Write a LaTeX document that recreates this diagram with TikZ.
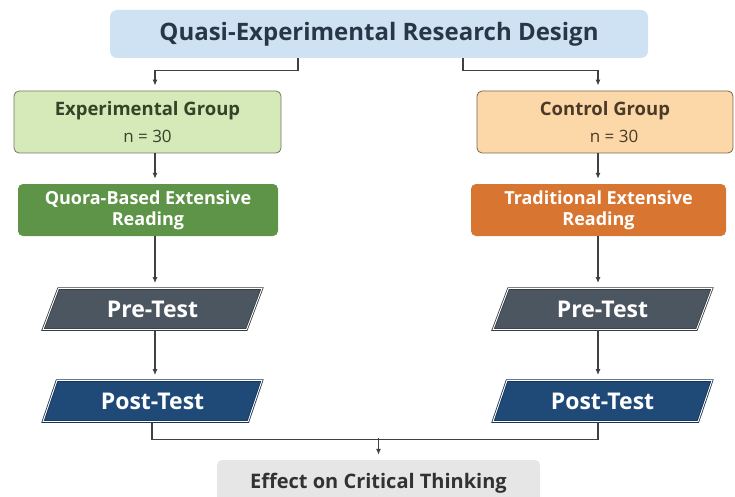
\documentclass[tikz,border=0pt]{standalone}
\usepackage{fontspec}
\setmainfont{Open Sans}
\usepackage{xcolor}
\usetikzlibrary{arrows.meta}
\usetikzlibrary{positioning,calc,shapes.geometric}
\definecolor{titlefill}{RGB}{207,226,243}
\definecolor{titletext}{RGB}{40,55,72}
\definecolor{expfill}{RGB}{214,233,184}
\definecolor{expdraw}{RGB}{110,120,100}
\definecolor{exptext}{RGB}{52,68,40}
\definecolor{ctlfill}{RGB}{252,216,168}
\definecolor{ctldraw}{RGB}{120,100,80}
\definecolor{ctltext}{RGB}{75,58,40}
\definecolor{quorafill}{RGB}{94,148,71}
\definecolor{tradfill}{RGB}{216,117,48}
\definecolor{prefill}{RGB}{75,86,96}
\definecolor{postfill}{RGB}{31,74,120}
\definecolor{effectfill}{RGB}{230,230,230}
\definecolor{effecttext}{RGB}{50,50,50}
\definecolor{linecol}{RGB}{64,64,64}

\begin{document}
\begin{tikzpicture}[
		x=1pt,y=-1pt,
		TitleBox/.style={fill=titlefill,rounded corners=7pt,minimum width=538pt,minimum height=48pt,
			text=titletext,font=\bfseries\fontsize{24}{28}\selectfont},
		GroupBox/.style={draw=#1draw,fill=#1fill,thick,rounded corners=5pt,minimum height=62pt,
			text=#1text,align=center,font=\bfseries\fontsize{18.5}{25}\selectfont},
		ReadBox/.style={fill=#1,rounded corners=5pt,minimum width=258pt,minimum height=52pt,
			text=white,align=center,font=\bfseries\fontsize{18}{21}\selectfont},
		TestBox/.style={trapezium,trapezium left angle=71,trapezium right angle=109,trapezium stretches=true,
			fill=#1,draw=#1!70!black,double=white,double distance=0.9pt,line width=0.8pt,
			minimum width=219pt,minimum height=41pt,text=white,font=\bfseries\fontsize{23}{26}\selectfont},
		Segments/.style={draw=linecol,line width=1.1pt},
		Conn/.style={Segments,-{Latex[length=6pt, width=5pt]},shorten >=5pt}
		]
		\useasboundingbox (0,0) rectangle (735,497);
		
		\coordinate (LeftLane) at (155,0);
		\coordinate (RightLane) at (598,0);
		
		\node[TitleBox] (Title) at (379,34) {Quasi-Experimental Research Design};
		
		% two groups
		\node[GroupBox=exp,minimum width=267pt] (ExpGroup) at (147.5,122) {Experimental Group\\[2pt]{\mdseries\fontsize{17}{18}\selectfont n = 30}};
		\node[GroupBox=ctl,minimum width=256pt] (CtlGroup) at (605,122) {Control Group\\[2pt]{\mdseries\fontsize{17}{18}\selectfont\hspace*{18pt}n = 30}};
		
		\node[ReadBox=quorafill,minimum width=260pt] (ExpRead) at (148,210) {Quora-Based Extensive\\Reading};
		\node[ReadBox=tradfill,minimum width=255pt] (CtlRead) at (598.5,210) {Traditional Extensive\\Reading};
		
		\node[TestBox=prefill] (ExpPre) at (152.5,309) {Pre-Test};
		\node[TestBox=prefill] (CtlPre) at (602.5,309) {Pre-Test};
		
		\node[TestBox=postfill] (ExpPost) at (152.5,401) {Post-Test};
		\node[TestBox=postfill] (CtlPost) at (602.5,401) {Post-Test};
		
		\node[fill=effectfill,rounded corners=5pt,minimum width=323pt,minimum height=46pt,
			text=effecttext,font=\bfseries\fontsize{20}{24}\selectfont] (Effect) at (378.5,483) {Effect on Critical Thinking};
		
		%split
		\draw[Conn] ([xshift=-81pt]Title.south) -- ++(0,12) -| (ExpGroup.north -| LeftLane);
		\draw[Conn] ([xshift=84pt]Title.south) -- ++(0,12) -| (CtlGroup.north -| RightLane);
		
		\draw[Conn] (ExpGroup.south -| LeftLane) -- (ExpRead.north -| LeftLane);
		\draw[Conn] (CtlGroup.south -| RightLane) -- (CtlRead.north -| RightLane);
		\draw[Conn] (ExpRead.south -| LeftLane) -- (ExpPre.north -| LeftLane);
		\draw[Conn] (CtlRead.south -| RightLane) -- (CtlPre.north -| RightLane);
		\draw[Conn] (ExpPre.south -| LeftLane) -- (ExpPost.north -| LeftLane);
		\draw[Conn] (CtlPre.south -| RightLane) -- (CtlPost.north -| RightLane);
		
		%join
		\draw[Segments] ([xshift=-3pt]ExpPost.south -| LeftLane) -- ++(0,18) -| (CtlPost.south -| RightLane);
		\draw[Conn] (Effect.north) ++(0,-22) -- (Effect.north);
		
\end{tikzpicture}
\end{document}
